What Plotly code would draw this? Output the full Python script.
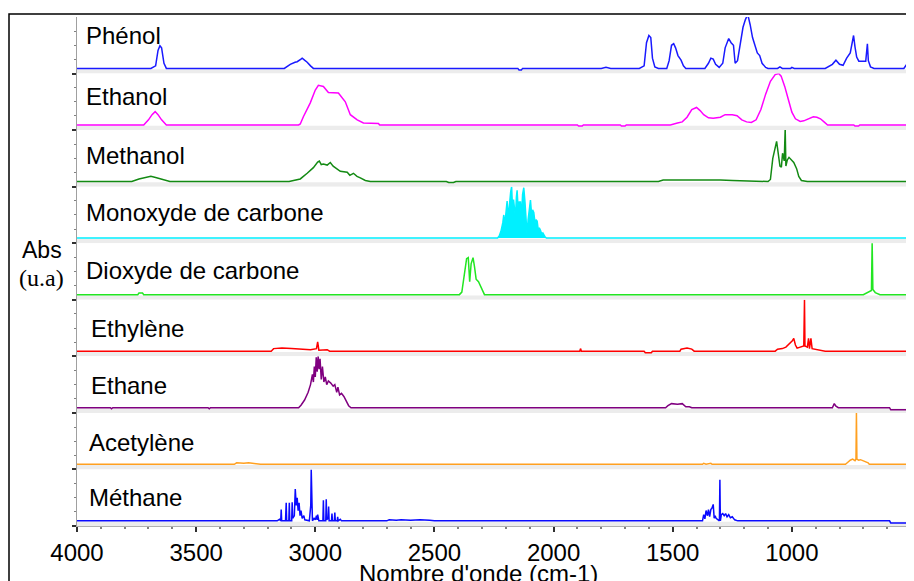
import plotly.graph_objects as go

# ---------------- data (wavenumber cm-1, relative absorbance) ----------------
compounds = ["Phénol", "Ethanol", "Methanol", "Monoxyde de carbone", "Dioxyde de carbone",
             "Ethylène", "Ethane", "Acetylène", "Méthane"]
colors = ["#1a1aff", "#ff00ff", "#138a13", "#00f0ff", "#22e622",
          "#ff0000", "#800080", "#ffa020", "#0a0aff"]

phenol = [(4000,0),(3690,0),(3670,0.05),(3660,0.35),(3652,0.44),(3645,0.40),(3635,0.10),(3625,0),
          (3130,0),(3105,0.08),(3085,0.12),(3076,0.13),(3060,0.18),(3055,0.20),(3045,0.16),(3034,0.12),(3020,0.05),(3008,0),
          (2150,0),(2145,-0.03),(2135,-0.03),(2130,0),(1800,0),(1780,0.02),(1760,0),
          (1640,0),(1620,0.05),(1610,0.50),(1600,0.64),(1592,0.60),(1585,0.20),(1575,0.03),(1560,0),
          (1525,0),(1515,0.15),(1505,0.45),(1496,0.48),(1488,0.40),(1478,0.25),(1465,0.16),(1455,0.05),(1445,0),
          (1365,0),(1350,0.10),(1340,0.20),(1330,0.18),(1320,0.08),(1305,0.02),
          (1290,0.10),(1280,0.40),(1265,0.58),(1255,0.50),(1245,0.45),(1238,0.10),(1228,0.15),(1215,0.50),
          (1205,0.80),(1195,0.95),(1185,1.05),(1175,0.85),(1165,0.60),(1155,0.45),(1145,0.30),(1135,0.25),
          (1125,0.10),(1110,0.02),(1100,0),(1060,0),(1050,0.03),(1040,0),(1005,0),(1000,0.02),(990,0),
          (860,0),(830,0.08),(815,0.16),(800,0.08),(785,0.06),(770,0.20),(755,0.30),(748,0.50),(741,0.64),
          (735,0.42),(728,0.22),(719,0.14),(700,0.14),(690,0.14),(683,0.48),(679,0.15),(670,0.03),(655,0),
          (530,0),(515,0.10),(500,0.20)]

ethanol = [(4000,0),(3720,0),(3700,0.10),(3685,0.20),(3672,0.26),(3660,0.20),(3645,0.10),(3625,0),
           (3070,0),(3063,0.02),(3050,0.16),(3035,0.30),(3021,0.43),(3000,0.68),(2987,0.77),(2966,0.75),
           (2950,0.66),(2945,0.63),(2903,0.62),(2890,0.55),(2874,0.45),(2853,0.20),(2824,0.10),(2798,0.04),
           (2735,0.03),(2730,0),(1900,0),(1895,-0.02),(1880,-0.02),(1875,0),(1720,0),(1715,-0.02),(1700,-0.02),(1695,0),
           (1510,0),(1480,0.04),(1460,0.06),(1440,0.15),(1420,0.30),(1400,0.34),(1385,0.28),(1370,0.20),
           (1350,0.14),(1330,0.13),(1300,0.15),(1280,0.20),(1250,0.20),(1230,0.18),(1210,0.10),(1190,0.06),
           (1170,0.05),(1150,0.10),(1130,0.30),(1110,0.60),(1090,0.85),(1070,0.98),(1055,1.0),(1045,0.95),
           (1030,0.75),(1015,0.50),(1000,0.25),(985,0.12),(965,0.07),(950,0.08),(930,0.12),(910,0.16),
           (895,0.15),(880,0.12),(865,0.06),(850,0),(740,0),(735,-0.02),(720,-0.02),(715,0),(500,0)]

methanol = [(4000,0),(3770,0),(3740,0.05),(3710,0.08),(3690,0.10),(3670,0.08),(3640,0.04),(3610,0),
            (3110,0),(3063,0.05),(3034,0.16),(3008,0.27),(2990,0.38),(2983,0.40),(2975,0.33),(2966,0.34),
            (2950,0.32),(2937,0.37),(2925,0.30),(2916,0.27),(2895,0.20),(2866,0.18),(2855,0.12),(2840,0.16),
            (2825,0.10),(2811,0.07),(2790,0.02),(2769,0),(2450,0),(2440,-0.02),(2420,-0.02),(2410,0),
            (1560,0),(1540,0.03),(1500,0.03),(1450,0.04),(1400,0.04),(1350,0.03),(1300,0.03),(1250,0.02),
            (1200,0.01),(1150,0.01),(1100,0),(1090,0.04),(1080,0.45),(1064,0.78),(1058,0.55),(1050,0.30),
            (1044,0.28),(1039,0.55),(1032,0.40),(1028,1.03),(1025,0.30),(1019,0.42),(1012,0.47),(1000,0.40),
            (992,0.37),(980,0.25),(971,0.10),(960,0.02),(935,0),(500,0)]

monoxyde = [(4000,0),(2235,0),(2228,0.04),(2220,0.15),(2213,0.30),(2209,0.45),(2205,0.25),(2200,0.55),
            (2195,0.72),(2190,0.40),(2185,0.70),(2180,0.90),(2176,1.0),(2172,0.55),(2168,0.75),(2164,0.60),
            (2160,0.40),(2156,0.80),(2153,0.93),(2148,0.50),(2144,0.70),(2139,0.70),(2135,0.40),(2130,0.85),
            (2125,0.98),(2120,0.70),(2115,0.35),(2111,0.05),(2107,0.35),(2102,0.60),(2097,0.74),(2092,0.45),
            (2088,0.55),(2083,0.50),(2078,0.30),(2073,0.35),(2069,0.33),(2064,0.15),(2060,0.20),(2055,0.15),
            (2050,0.08),(2045,0.10),(2041,0.06),(2035,0.02),(2030,0),(500,0)]

dioxyde = [(4000,0),(3745,0),(3740,0.03),(3725,0.03),(3720,0),(2395,0),(2385,0.05),(2375,0.40),(2365,0.70),
           (2358,0.72),(2352,0.25),(2346,0.60),(2338,0.72),(2332,0.55),(2325,0.30),(2315,0.25),(2305,0.15),
           (2295,0.02),(2290,0),(700,0),(690,0.02),(675,0.05),(666,0.08),(663,1.02),(660,0.10),(650,0.04),
           (640,0.02),(630,0),(500,0)]

ethylene = [(4000,0),(3185,0),(3175,0.05),(3140,0.06),(3100,0.05),(3060,0.04),(3020,0.03),(2995,0.05),
            (2990,0.18),(2985,0.02),(2950,0.03),(2940,0),(1890,0),(1887,0.05),(1883,0),(1620,0),(1615,-0.03),
            (1590,-0.03),(1585,0),(1470,0),(1465,0.04),(1440,0.06),(1420,0.04),(1410,0),
            (1070,0),(1060,0.04),(1040,0.05),(1025,0.08),(1010,0.15),(998,0.20),(992,0.25),(985,0.12),
            (978,0.06),(960,0.08),(950,0.10),(947,1.0),(945,0.10),(935,0.08),(930,0.25),(926,0.05),
            (920,0.25),(915,0.05),(905,0.04),(890,0.03),(875,0.02),(860,0),(500,0)]

ethane = [(4000,0),(3860,0),(3855,-0.02),(3850,0),(3450,0),(3445,-0.02),(3440,0),
          (3070,0),(3060,0.05),(3045,0.15),(3030,0.30),(3020,0.45),(3012,0.65),(3008,0.50),(3004,0.80),
          (3000,0.60),(2996,0.98),(2992,0.70),(2988,1.0),(2984,0.75),(2980,0.95),(2975,0.55),(2970,0.80),
          (2964,0.50),(2958,0.60),(2952,0.45),(2945,0.52),(2935,0.48),(2925,0.42),(2918,0.45),(2910,0.30),
          (2905,0.40),(2898,0.25),(2890,0.28),(2880,0.22),(2870,0.12),(2860,0.04),(2850,0),
          (1530,0),(1520,0.04),(1505,0.08),(1480,0.07),(1460,0.08),(1445,0.02),(1430,0.02),(1420,0),
          (830,0),(822,0.08),(815,0.03),(805,0),(590,0),(585,-0.04),(500,-0.04)]

acetylene = [(4000,0),(3340,0),(3330,0.03),(3300,0.02),(3280,0.03),(3250,0.02),(3230,0),(1375,0),(1370,0.02),
             (1360,0),(1340,0.02),(1335,0),(775,0),(765,0.04),(755,0.08),(745,0.10),(735,0.07),(731,0.10),
             (729,1.0),(727,0.10),(720,0.08),(712,0.09),(700,0.07),(690,0.06),(680,0.03),(675,0),(500,0)]

methane = [(4000,0),(3160,0),(3150,0.03),(3145,0),(3143,0.22),(3141,0),(3125,0),(3122,0.35),(3120,0),
           (3111,0),(3109,0.35),(3107,0),(3099,0),(3097,0.36),(3095,0.05),(3088,0.10),(3084,0.62),(3080,0.30),
           (3076,0.45),(3072,0.20),(3068,0.35),(3064,0.10),(3060,0.20),(3055,0.05),(3048,0.10),(3044,0.02),
           (3025,0),(3019,0.30),(3017,1.0),(3015,0.20),(3012,0),(3005,0.05),(3000,0.02),(2995,0.10),
           (2992,0.02),(2990,0.12),(2985,0),(2968,0),(2966,0.40),(2964,0),(2956,0),(2954,0.42),(2952,0.02),
           (2946,0.05),(2944,0.28),(2942,0),(2932,0),(2930,0.14),(2928,0),(2920,0),(2918,0.16),(2916,0),
           (2908,0),(2906,0.08),(2904,0),(2895,0.03),(2890,0),(2700,0),(2690,0.02),(2660,0.01),(2640,0.02),
           (2600,0.01),(2560,0.02),(2520,0.01),(2500,0),(1375,0),(1370,0.12),(1365,0.04),(1360,0.20),
           (1354,0.10),(1350,0.22),(1345,0.08),(1340,0.22),(1335,0.25),(1330,0.32),(1326,0.05),(1322,0.10),
           (1318,0.05),(1304,0),(1302,0.80),(1300,0),(1296,0.12),(1290,0.14),(1284,0.10),(1278,0.14),
           (1272,0.08),(1265,0.12),(1258,0.06),(1250,0.08),(1240,0.02),(1227,0),(590,0),(585,-0.04),(500,-0.04)]

spectra = [phenol, ethanol, methanol, monoxyde, dioxyde, ethylene, ethane, acetylene, methane]
filled = [False, False, False, True, False, False, False, False, False]

x_ticks = [4000, 3500, 3000, 2500, 2000, 1500, 1000, 500]
x_title = "Nombre d'onde (cm-1)"
y_title_top = "Abs"
y_title_bottom = "(u.a)"

# ---------------- geometry ----------------
# the page body has an 8 px margin, so the figure is drawn 8 px smaller and
# all page-pixel positions below are shifted by that offset.
OFF = 8
W, H = 914 - OFF, 581 - OFF
ML, MR, MT, MB = 77 - OFF, 3, 17 - OFF, 55
PW, PH = W - ML - MR, H - MT - MB
N = len(compounds)
YMIN, YMAX = -0.1, 1.0
FONT = "Arial, Liberation Sans, sans-serif"

def px_x(px):
    return (px - OFF - ML) / PW

def px_y(py):
    return (H - MB - (py - OFF)) / PH

fig = go.Figure()
layout = dict(
    width=W, height=H, margin=dict(l=ML, r=MR, t=MT, b=MB, autoexpand=False),
    paper_bgcolor="white", plot_bgcolor="white", showlegend=False,
    font=dict(family=FONT, color="black", size=24),
)

shapes = []
annotations = []
label_pos = [(84, 35), (84, 96), (84, 155), (84, 212), (84, 270),
             (89, 328), (89, 385), (87, 442), (87, 497)]

for i, (name, col, spec, fl) in enumerate(zip(compounds, colors, spectra, filled)):
    ykey = "y" if i == 0 else f"y{i+1}"
    lkey = "yaxis" if i == 0 else f"yaxis{i+1}"
    wn = [p[0] for p in spec]
    ab = [p[1] for p in spec]
    fig.add_trace(go.Scatter(
        x=wn, y=ab, mode="lines", xaxis="x", yaxis=ykey,
        line=dict(color=col, width=1.5),
        fill="tozeroy" if fl else None, fillcolor=col if fl else None,
        hoverinfo="skip"))
    d0 = 1 - (i + 1) / N
    d1 = 1 - i / N
    layout[lkey] = dict(
        domain=[d0, d1], range=[YMIN, YMAX], showticklabels=False, showgrid=False,
        zeroline=False, showline=True, linecolor="#a0a0a0", linewidth=1,
        mirror="ticks", ticks="outside", tickvals=[YMIN], ticklen=4, tickwidth=2,
        tickcolor="#303030", automargin=False,
        minor=dict(tickvals=[0.175, 0.45, 0.725], ticks="outside", ticklen=2,
                   tickcolor="#808080", tickwidth=1),
        fixedrange=True,
    )
    # light grey strip under each baseline
    shapes.append(dict(type="rect", xref="paper", yref=ykey, x0=0, x1=1,
                       y0=YMIN, y1=-0.015, fillcolor="#ececec", line=dict(width=0),
                       layer="below"))
    lx, ly = label_pos[i]
    annotations.append(dict(text=name, xref="paper", yref="paper", x=px_x(lx), y=px_y(ly),
                            xanchor="left", yanchor="middle", showarrow=False,
                            font=dict(size=24, family=FONT, color="black")))

layout["xaxis"] = dict(
    anchor=f"y{N}", domain=[0, 1], range=[4000, 500], tickvals=x_ticks,
    ticktext=[str(v) for v in x_ticks], ticks="outside", ticklen=5, tickwidth=1.5,
    tickcolor="#303030", showline=True, linecolor="#b0b0b0", showgrid=False, zeroline=False,
    tickfont=dict(size=24, family=FONT, color="black"), automargin=False,
    minor=dict(dtick=100, ticks="outside", ticklen=2, tickcolor="#808080"),
    fixedrange=True,
)

annotations.append(dict(text=x_title, xref="paper", yref="paper", x=px_x(478), y=px_y(573),
                        xanchor="center", yanchor="middle", showarrow=False,
                        font=dict(size=24, family=FONT, color="black")))
annotations.append(dict(text=y_title_top, xref="paper", yref="paper", x=px_x(42), y=px_y(250),
                        xanchor="center", yanchor="middle", showarrow=False,
                        font=dict(size=23, family=FONT, color="black")))
annotations.append(dict(text=y_title_bottom, xref="paper", yref="paper", x=px_x(41), y=px_y(278),
                        xanchor="center", yanchor="middle", showarrow=False,
                        font=dict(size=24, family="Liberation Serif, Times New Roman, serif",
                                  color="black")))

# outer black frame
shapes.append(dict(type="rect", xref="paper", yref="paper",
                   x0=px_x(9), x1=px_x(912), y0=px_y(600), y1=px_y(14),
                   line=dict(color="black", width=1.5), fillcolor="rgba(0,0,0,0)", layer="above"))

layout["shapes"] = shapes
layout["annotations"] = annotations
fig.update_layout(**layout)
fig.write_html("out.html")
